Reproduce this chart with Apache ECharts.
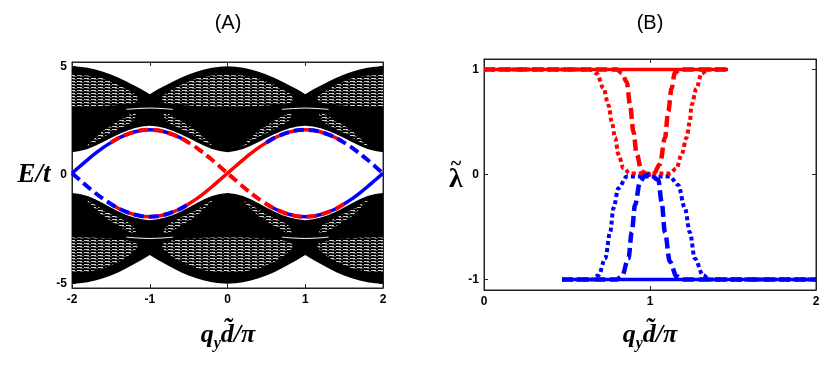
<!DOCTYPE html>
<html>
<head>
<meta charset="utf-8">
<script src="https://cdn.jsdelivr.net/npm/echarts@6/dist/echarts.min.js"></script>
<style>
  html, body { margin: 0; padding: 0; background: #fff; }
  #chart { width: 830px; height: 367px; }
</style>
</head>
<body>
<div id="chart"></div>
<script>
// ---- panel A : spectrum vs q_y d/pi ----
const qA = [-2, -1.9, -1.8, -1.7, -1.6, -1.5, -1.4, -1.3, -1.2, -1.1, -1, -0.9, -0.8, -0.7, -0.6, -0.5, -0.4, -0.3, -0.2, -0.1,
  0, 0.1, 0.2, 0.3, 0.4, 0.5, 0.6, 0.7, 0.8, 0.9, 1, 1.1, 1.2, 1.3, 1.4, 1.5, 1.6, 1.7, 1.8, 1.9, 2];

// black bands (upper band: top / inner edge, lower band: inner edge / bottom)
const upperTop = [5.0, 4.98, 4.93, 4.85, 4.75, 4.63, 4.48, 4.3, 4.12, 3.93, 3.72, 3.93, 4.12, 4.3, 4.48, 4.63, 4.75, 4.85, 4.93, 4.98,
  5.0, 4.98, 4.93, 4.85, 4.75, 4.63, 4.48, 4.3, 4.12, 3.93, 3.72, 3.93, 4.12, 4.3, 4.48, 4.63, 4.75, 4.85, 4.93, 4.98, 5.0];
const upperIn = [1.05, 1.1, 1.2, 1.35, 1.52, 1.7, 1.88, 2.03, 2.15, 2.23, 2.27, 2.23, 2.15, 2.03, 1.88, 1.7, 1.52, 1.35, 1.2, 1.1,
  1.05, 1.1, 1.2, 1.35, 1.52, 1.7, 1.88, 2.03, 2.15, 2.23, 2.27, 2.23, 2.15, 2.03, 1.88, 1.7, 1.52, 1.35, 1.2, 1.1, 1.05];
const lowerIn = [-0.83, -0.87, -0.97, -1.12, -1.3, -1.5, -1.68, -1.84, -1.96, -2.04, -2.08, -2.04, -1.96, -1.84, -1.68, -1.5, -1.3, -1.12, -0.97, -0.87,
  -0.83, -0.87, -0.97, -1.12, -1.3, -1.5, -1.68, -1.84, -1.96, -2.04, -2.08, -2.04, -1.96, -1.84, -1.68, -1.5, -1.3, -1.12, -0.97, -0.87, -0.83];
const lowerBot = [-5.0, -4.98, -4.93, -4.85, -4.75, -4.62, -4.47, -4.29, -4.1, -3.9, -3.68, -3.9, -4.1, -4.29, -4.47, -4.62, -4.75, -4.85, -4.93, -4.98,
  -5.0, -4.98, -4.93, -4.85, -4.75, -4.62, -4.47, -4.29, -4.1, -3.9, -3.68, -3.9, -4.1, -4.29, -4.47, -4.62, -4.75, -4.85, -4.93, -4.98, -5.0];

// hatched "eye" regions inside the bands (offset from centre, top, bottom)
const eyeCentres = [-2, 0, 2];
const eyeD = [0, 0.2, 0.4, 0.6, 0.7, 0.8, 0.84];
const eyeUpTop = [4.6, 4.58, 4.45, 4.15, 3.95, 3.75, 3.6];
const eyeUpBot = [3.15, 3.15, 3.17, 3.22, 3.27, 3.3, 3.4];
const eyeLoTop = [-2.88, -2.88, -2.9, -2.95, -3.0, -3.1, -3.2];
const eyeLoBot = [-4.5, -4.45, -4.3, -4.0, -3.8, -3.5, -3.35];

// hatched wedges next to the edge-state maxima
const wedgeCentres = [-1, 1];
const wedgeD = [0.8, 0.6, 0.4, 0.22, 0.18];
const wedgeUpIn = [1.3, 1.75, 2.1, 2.45, 2.7];
const wedgeUpOut = [1.38, 2.05, 2.5, 2.85, 2.85];
const wedgeLoIn = [-1.15, -1.6, -1.95, -2.3, -2.55];
const wedgeLoOut = [-1.22, -1.9, -2.35, -2.7, -2.7];

// thin white gap lines
const arcD = [-0.3, -0.15, 0, 0.15, 0.3];
const arcUp = [3.02, 3.06, 3.08, 3.06, 3.02];
const arcLo = [-2.86, -2.9, -2.92, -2.9, -2.86];

// edge states (rising through q=0, falling through q=0)
const edgeUp = [0.08, -0.23, -0.54, -0.83, -1.1, -1.33, -1.54, -1.7, -1.82, -1.9, -1.92, -1.9, -1.82, -1.7, -1.54, -1.33, -1.1, -0.83, -0.54, -0.23,
  0.08, 0.39, 0.7, 0.99, 1.26, 1.49, 1.7, 1.86, 1.98, 2.06, 2.08, 2.06, 1.98, 1.86, 1.7, 1.49, 1.26, 0.99, 0.7, 0.39, 0.08];
const edgeDown = [0.08, 0.39, 0.7, 0.99, 1.26, 1.49, 1.7, 1.86, 1.98, 2.06, 2.08, 2.06, 1.98, 1.86, 1.7, 1.49, 1.26, 0.99, 0.7, 0.39,
  0.08, -0.23, -0.54, -0.83, -1.1, -1.33, -1.54, -1.7, -1.82, -1.9, -1.92, -1.9, -1.82, -1.7, -1.54, -1.33, -1.1, -0.83, -0.54, -0.23, 0.08];

// ---- panel B : lambda vs q_y d/pi ----
const redSolidX = [0, 1.47];
const redSolidY = [1, 1];
const blueSolidX = [0.47, 2];
const blueSolidY = [-1, -1];
const redDotX = [0, 0.64, 0.68, 0.72, 0.75, 0.77, 0.79, 0.81, 0.84, 0.88, 1.12, 1.16, 1.19, 1.22, 1.24, 1.25, 1.28, 1.31, 1.35, 1.47];
const redDotY = [1, 1, 0.96, 0.82, 0.66, 0.5, 0.35, 0.19, 0.06, 0.01, 0.01, 0.06, 0.19, 0.35, 0.5, 0.66, 0.82, 0.96, 1, 1];
const redDashX = [0, 0.8, 0.83, 0.86, 0.88, 0.9, 0.92, 0.95, 0.98, 1.02, 1.06, 1.09, 1.11, 1.13, 1.15, 1.18, 1.47];
const redDashY = [1, 1, 0.97, 0.88, 0.66, 0.41, 0.19, 0.03, 0, 0, 0.1, 0.35, 0.6, 0.82, 0.97, 1, 1];
const blueDotX = [0.47, 0.65, 0.69, 0.73, 0.76, 0.78, 0.81, 0.86, 1.12, 1.17, 1.21, 1.24, 1.27, 1.32, 1.36, 2];
const blueDotY = [-1, -1, -0.96, -0.8, -0.55, -0.32, -0.13, -0.02, -0.02, -0.1, -0.32, -0.55, -0.8, -0.96, -1, -1];
const blueDashX = [0.47, 0.8, 0.83, 0.87, 0.89, 0.91, 0.94, 0.97, 1.0, 1.05, 1.07, 1.09, 1.12, 1.16, 1.2, 2];
const blueDashY = [-1, -1, -0.97, -0.8, -0.55, -0.29, -0.07, -0.01, 0, -0.05, -0.26, -0.55, -0.83, -0.97, -1, -1];

const RED = '#ff0000';
const BLUE = '#0000ff';

// striped fill that stands in for the dense band lines
const pat = document.createElement('canvas');
pat.width = 7; pat.height = 3;
const pctx = pat.getContext('2d');
pctx.fillStyle = '#000'; pctx.fillRect(0, 0, 7, 3);
pctx.fillStyle = '#d0d0d0'; pctx.fillRect(0, 0, 5, 1);
pctx.fillStyle = '#5a5a5a'; pctx.fillRect(3, 1, 4, 1);
const hatch = { image: pat, repeat: 'repeat' };

const pairs = (xs, ys) => xs.map((x, i) => [x, ys[i]]);

function polySeries(points, fill, axis) {
  return {
    type: 'custom', coordinateSystem: 'cartesian2d', xAxisIndex: axis, yAxisIndex: axis,
    silent: true, data: [points[0]],
    renderItem: (params, api) => ({
      type: 'polygon',
      shape: { points: points.map(p => api.coord(p)) },
      style: { fill: fill, stroke: null }
    })
  };
}

function bandPoly(topArr, botArr) {
  const pts = pairs(qA, topArr);
  for (let i = qA.length - 1; i >= 0; i--) pts.push([qA[i], botArr[i]]);
  return pts;
}

function eyePoly(c, topArr, botArr) {
  const top = [], bot = [];
  for (let k = eyeD.length - 1; k >= 0; k--) { top.push([c - eyeD[k], topArr[k]]); bot.push([c - eyeD[k], botArr[k]]); }
  for (let k = 1; k < eyeD.length; k++) { top.push([c + eyeD[k], topArr[k]]); bot.push([c + eyeD[k], botArr[k]]); }
  return top.concat(bot.reverse()).filter(p => p[0] >= -2 && p[0] <= 2);
}

function wedgePoly(c, s, inArr, outArr) {
  const pts = [];
  for (let k = 0; k < wedgeD.length; k++) pts.push([c + s * wedgeD[k], inArr[k]]);
  for (let k = wedgeD.length - 1; k >= 0; k--) pts.push([c + s * wedgeD[k], outArr[k]]);
  return pts;
}

function lineA(data, color, width, type) {
  return {
    type: 'line', xAxisIndex: 0, yAxisIndex: 0, data: data, showSymbol: false, symbol: 'none',
    smooth: 0.3, silent: true,
    lineStyle: { color: color, width: width, type: type, cap: 'butt' }
  };
}

function lineB(xs, ys, color, width, type) {
  return {
    type: 'line', xAxisIndex: 2, yAxisIndex: 2, data: pairs(xs, ys), showSymbol: false, symbol: 'none',
    smooth: 0.35, smoothMonotone: 'x', silent: true,
    lineStyle: { color: color, width: width, type: type, cap: 'butt' }
  };
}

const series = [];
series.push(polySeries(bandPoly(upperTop, upperIn), '#000', 0));
series.push(polySeries(bandPoly(lowerIn, lowerBot), '#000', 0));
eyeCentres.forEach(c => {
  series.push(polySeries(eyePoly(c, eyeUpTop, eyeUpBot), hatch, 0));
  series.push(polySeries(eyePoly(c, eyeLoTop, eyeLoBot), hatch, 0));
});
wedgeCentres.forEach(c => {
  [-1, 1].forEach(s => {
    series.push(polySeries(wedgePoly(c, s, wedgeUpIn, wedgeUpOut), hatch, 0));
    series.push(polySeries(wedgePoly(c, s, wedgeLoIn, wedgeLoOut), hatch, 0));
  });
});
wedgeCentres.forEach(c => {
  series.push(lineA(arcD.map((d, i) => [c + d, arcUp[i]]), '#fff', 1, 'solid'));
  series.push(lineA(arcD.map((d, i) => [c + d, arcLo[i]]), '#fff', 1, 'solid'));
});

// edge states: solid first, dashed on top
const edgeUpP = pairs(qA, edgeUp);
const edgeDownP = pairs(qA, edgeDown);
series.push(lineA(edgeDownP.slice(0, 16), BLUE, 3.5, 'solid'));
series.push(lineA(edgeDownP.slice(25), BLUE, 3.5, 'solid'));
series.push(lineA(edgeUpP.slice(5, 36), RED, 3.5, 'solid'));
series.push(lineA(edgeDownP.slice(5, 36), RED, 4, [10, 5]));
series.push(lineA(edgeUpP.slice(0, 16), BLUE, 4, [10, 5]));
series.push(lineA(edgeUpP.slice(25), BLUE, 4, [10, 5]));

series.push(lineB(redSolidX, redSolidY, RED, 3.5, 'solid'));
series.push(lineB(blueSolidX, blueSolidY, BLUE, 3.5, 'solid'));
series.push(lineB(blueDotX, blueDotY, BLUE, 4, [4, 3]));
series.push(lineB(redDotX, redDotY, RED, 4, [4, 3]));
series.push(lineB(redDashX, redDashY, RED, 4.5, [11, 5]));
series.push(lineB(blueDashX, blueDashY, BLUE, 4.5, [11, 5]));

const tickFont = { color: '#000', fontSize: 12, fontWeight: 'bold', fontFamily: 'Liberation Sans, Arial, sans-serif' };
const axLine = { show: true, onZero: false, lineStyle: { color: '#222', width: 1 } };
const tick = { show: true, inside: true, length: 4, lineStyle: { color: '#222' } };

function xAx(grid, min, max, pos, label) {
  return {
    gridIndex: grid, type: 'value', min: min, max: max, interval: 1, position: pos,
    axisLine: axLine, axisTick: tick, splitLine: { show: false },
    axisLabel: label ? Object.assign({ margin: 6 }, tickFont) : { show: false }
  };
}
function yAx(grid, min, max, ticks, pos, label) {
  return {
    gridIndex: grid, type: 'value', min: min, max: max, position: pos,
    axisLine: axLine, splitLine: { show: false },
    axisTick: Object.assign({ customValues: ticks }, tick),
    axisLabel: label ? Object.assign({ margin: 5, customValues: ticks }, tickFont) : { show: false }
  };
}

const serif = 'Liberation Serif, Times New Roman, serif';
const axisNameRich = {
  a: { fontFamily: serif, fontStyle: 'italic', fontWeight: 'bold', fontSize: 26, fill: '#000', lineHeight: 34, verticalAlign: 'middle' },
  b: { fontFamily: serif, fontStyle: 'italic', fontWeight: 'bold', fontSize: 16, fill: '#000', lineHeight: 34, verticalAlign: 'bottom' }
};

const chart = echarts.init(document.getElementById('chart'), null, { renderer: 'canvas' });
chart.setOption({
  animation: false,
  backgroundColor: '#fff',
  grid: [
    { left: 72, top: 62, width: 311, height: 226, show: true, borderColor: '#222', borderWidth: 1, backgroundColor: '#fff' },
    { left: 484, top: 59, width: 332, height: 231, show: true, borderColor: '#222', borderWidth: 1, backgroundColor: '#fff' }
  ],
  xAxis: [
    xAx(0, -2, 2, 'bottom', true),
    xAx(0, -2, 2, 'top', false),
    xAx(1, 0, 2, 'bottom', true),
    xAx(1, 0, 2, 'top', false)
  ],
  yAxis: [
    yAx(0, -5.2, 5.2, [-5, 0, 5], 'left', true),
    yAx(0, -5.2, 5.2, [-5, 0, 5], 'right', false),
    yAx(1, -1.1, 1.1, [-1, 0, 1], 'left', true),
    yAx(1, -1.1, 1.1, [-1, 0, 1], 'right', false)
  ],
  graphic: [
    { type: 'text', x: 228, y: 23, style: { text: '(A)', font: '20px "Liberation Sans", Arial, sans-serif', fill: '#000', textAlign: 'center', textVerticalAlign: 'middle' } },
    { type: 'text', x: 650, y: 23, style: { text: '(B)', font: '20px "Liberation Sans", Arial, sans-serif', fill: '#000', textAlign: 'center', textVerticalAlign: 'middle' } },
    { type: 'text', x: 34, y: 175, style: { text: 'E/t', font: 'italic bold 27px "Liberation Serif", serif', fill: '#000', textAlign: 'center', textVerticalAlign: 'middle' } },
    { type: 'text', x: 456, y: 180, style: { text: 'λ', font: 'bold 28px "Liberation Serif", serif', fill: '#000', textAlign: 'center', textVerticalAlign: 'middle' } },
    { type: 'text', x: 456, y: 165, style: { text: '~', font: 'bold 20px "Liberation Serif", serif', fill: '#000', textAlign: 'center', textVerticalAlign: 'middle' } },
    { type: 'text', x: 228, y: 335, style: { text: '{a|q}{b|y}{a|d\u0303/π}', rich: axisNameRich, textAlign: 'center', textVerticalAlign: 'middle' } },
    { type: 'text', x: 650, y: 335, style: { text: '{a|q}{b|y}{a|d\u0303/π}', rich: axisNameRich, textAlign: 'center', textVerticalAlign: 'middle' } }
  ],
  series: series
});
</script>
</body>
</html>
